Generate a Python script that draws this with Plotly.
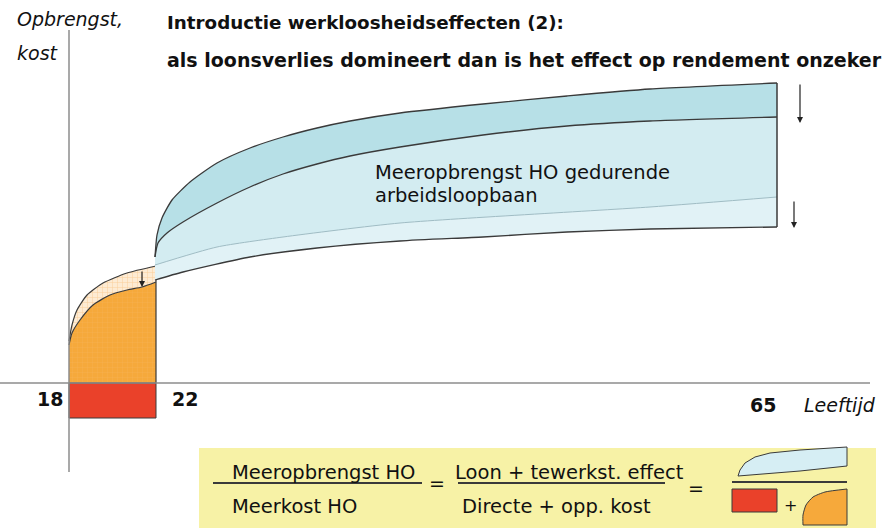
import plotly.graph_objects as go

# ---------------- data ----------------
# horizontal position units: 0 = start of study (age 18); vertical: 0 = age axis
age_labels = ["18", "22", "65"]

# study period: cost curves (opportunity cost without / with unemployment effect)
study_gross_x = [0, 3, 8, 18, 34, 58, 87]
study_gross_y = [42, 58, 73, 88, 100, 110, 117]
study_net_x = [0, 3, 11, 24, 41, 58, 73, 87]
study_net_y = [38, 50, 63, 78, 88, 93, 96, 101]
direct_cost = -35
study_end = 87

# career period: earnings differential curves
earn_top_x = [86, 88, 93, 103, 121, 148, 181, 214, 248, 281, 331, 414, 498, 581, 708]
earn_top_y = [126, 148, 165, 183, 201, 220, 235, 246, 255, 262, 270, 279, 287, 294, 300]
earn_mid_x = [86, 89, 98, 114, 148, 181, 214, 248, 281, 331, 414, 498, 581, 708]
earn_mid_y = [126, 140, 150, 161, 180, 196, 209, 219, 227, 236, 248, 257, 262, 266]
earn_low_x = [86, 148, 214, 331, 581, 708]
earn_low_y = [118, 136, 146, 160, 176, 186]
earn_base_x = [86, 114, 181, 248, 331, 414, 498, 581, 708]
earn_base_y = [103, 111, 126, 135, 142, 146, 151, 154, 156]

# small formula icons
icon_blue_x = [669, 671, 676, 686, 701, 731, 778, 778, 731, 669]
icon_blue_y = [-93, -87, -80, -74, -70, -67, -64, -83, -88, -93]
icon_red_x = [663, 708, 708, 663, 663]
icon_red_y = [-106, -106, -129, -129, -106]
icon_orange_base_x = [734, 778]
icon_orange_base_y = [-142, -142]
icon_orange_x = [734, 734, 737, 744, 756, 778]
icon_orange_y = [-142, -132, -122, -114, -109, -106]

FONT = "DejaVu Sans"
DARK = "#3a3a3a"
AXIS = "#8c8c8c"

fig = go.Figure()
sp = dict(shape="spline", smoothing=0.6)

# baseline of the study period
fig.add_trace(go.Scatter(x=[0, study_end], y=[0, 0], mode="lines",
                         line=dict(color="rgba(0,0,0,0)", width=0), hoverinfo="skip"))
# orange (opportunity cost) region
fig.add_trace(go.Scatter(
    x=study_net_x, y=study_net_y, mode="lines",
    line=dict(color=DARK, width=1.2, **sp),
    fill="tonexty", fillcolor="#F6A93B",
    fillpattern=dict(shape="+", bgcolor="#F6A93B", fgcolor="#F8BE72", size=5, solidity=0.12),
    hoverinfo="skip"))
# hatched region (loss due to unemployment effect)
fig.add_trace(go.Scatter(
    x=study_gross_x, y=study_gross_y, mode="lines",
    line=dict(color=DARK, width=1.2, **sp),
    fill="tonexty", fillcolor="#FDEBD3",
    fillpattern=dict(shape="+", bgcolor="#FDEBD3", fgcolor="#F6B464", size=5, solidity=0.2),
    hoverinfo="skip"))
fig.add_trace(go.Scatter(
    x=[study_end, study_end], y=[0, earn_top_y[0]], mode="lines",
    line=dict(color=DARK, width=1.2), hoverinfo="skip"))

# red direct cost rectangle
fig.add_trace(go.Scatter(
    x=[0, study_end, study_end, 0, 0], y=[0, 0, direct_cost, direct_cost, 0],
    mode="lines", line=dict(color=DARK, width=1), fill="toself", fillcolor="#EA412A",
    hoverinfo="skip"))

# blue bands (stacked fills)
fig.add_trace(go.Scatter(x=earn_base_x, y=earn_base_y, mode="lines",
                         line=dict(color=DARK, width=1.3, **sp), hoverinfo="skip"))
fig.add_trace(go.Scatter(x=earn_low_x, y=earn_low_y, mode="lines",
                         line=dict(color="#9fbcc4", width=1, **sp),
                         fill="tonexty", fillcolor="#E1F2F6", hoverinfo="skip"))
fig.add_trace(go.Scatter(x=earn_mid_x, y=earn_mid_y, mode="lines",
                         line=dict(color=DARK, width=1.3, **sp),
                         fill="tonexty", fillcolor="#D3ECF1", hoverinfo="skip"))
fig.add_trace(go.Scatter(x=earn_top_x, y=earn_top_y, mode="lines",
                         line=dict(color=DARK, width=1.3, **sp),
                         fill="tonexty", fillcolor="#B7E0E7", hoverinfo="skip"))
fig.add_trace(go.Scatter(x=[earn_top_x[-1], earn_top_x[-1]], y=[earn_top_y[-1], earn_base_y[-1]],
                         mode="lines", line=dict(color=DARK, width=1.5), hoverinfo="skip"))

# formula icons
fig.add_trace(go.Scatter(x=icon_blue_x, y=icon_blue_y, mode="lines",
                         line=dict(color=DARK, width=1), fill="toself", fillcolor="#D6EEF4",
                         hoverinfo="skip"))
fig.add_trace(go.Scatter(x=icon_red_x, y=icon_red_y, mode="lines",
                         line=dict(color=DARK, width=1), fill="toself", fillcolor="#EA412A",
                         hoverinfo="skip"))
fig.add_trace(go.Scatter(x=icon_orange_base_x, y=icon_orange_base_y, mode="lines",
                         line=dict(color=DARK, width=1), hoverinfo="skip"))
fig.add_trace(go.Scatter(x=icon_orange_x, y=icon_orange_y, mode="lines",
                         line=dict(color=DARK, width=1, **sp), fill="tonexty", fillcolor="#F6A93B",
                         hoverinfo="skip"))
fig.add_trace(go.Scatter(x=[icon_orange_x[-1], icon_orange_x[-1]],
                         y=[icon_orange_y[-1], icon_orange_base_y[-1]], mode="lines",
                         line=dict(color=DARK, width=1), hoverinfo="skip"))

shapes = [
    # formula box
    dict(type="rect", x0=130, x1=807, y0=-145, y1=-65, fillcolor="#F7F2A6",
         line=dict(width=0), layer="below"),
    # axes
    dict(type="line", x0=0, x1=0, y0=-89, y1=353, line=dict(color=AXIS, width=1.5)),
    dict(type="line", x0=-69, x1=801, y0=0, y1=0, line=dict(color=AXIS, width=1.5)),
    # fraction bars
    dict(type="line", x0=144, x1=353, y0=-100, y1=-100, line=dict(color=DARK, width=2)),
    dict(type="line", x0=389, x1=596, y0=-100, y1=-100, line=dict(color=DARK, width=2)),
    dict(type="line", x0=663, x1=778, y0=-99, y1=-99, line=dict(color=DARK, width=2)),
]

def txt(x, y, s, size=19, bold=False, italic=False, xanchor="left"):
    return dict(x=x, y=y, text=s, showarrow=False, xanchor=xanchor, yanchor="middle",
                font=dict(family=FONT, size=size, color="#111",
                          weight="bold" if bold else "normal",
                          style="italic" if italic else "normal"))

annotations = [
    txt(-54, 364, "Opbrengst,", italic=True),
    txt(-54, 330, "kost", italic=True),
    txt(96, 361, "Introductie werkloosheidseffecten (2):", size=18.3, bold=True),
    txt(96, 323, "als loonsverlies domineert dan is het effect op rendement onzeker", size=19, bold=True),
    txt(304, 211, "Meeropbrengst HO gedurende", size=19.5),
    txt(304, 188, "arbeidsloopbaan", size=19.5),
    txt(-19, -16, age_labels[0], bold=True, xanchor="center"),
    txt(116, -16, age_labels[1], bold=True, xanchor="center"),
    txt(694, -22, age_labels[2], bold=True, xanchor="center"),
    txt(733, -22, "Leeftijd", italic=True),
    txt(161, -89, "Meeropbrengst HO", size=19.5),
    txt(161, -123, "Meerkost HO", size=19.5),
    txt(368, -100, "=", xanchor="center"),
    txt(384, -89, "Loon + tewerkst. effect", size=19.5),
    txt(391, -123, "Directe + opp. kost", size=19.5),
    txt(627, -105, "=", xanchor="center"),
    txt(721, -122, "+", size=16, xanchor="center"),
]

# arrows
for (x, y0, y1) in [(73, 113, 96), (731, 300, 260), (725, 183, 155)]:
    annotations.append(dict(x=x, y=y1, ax=x, ay=y0, xref="x", yref="y", axref="x", ayref="y",
                            text="", showarrow=True, arrowhead=2, arrowsize=1,
                            arrowwidth=1.2, arrowcolor="#222", standoff=0))

fig.update_layout(
    width=888, height=528, autosize=False,
    margin=dict(l=0, r=0, t=0, b=0),
    paper_bgcolor="white", plot_bgcolor="white",
    showlegend=False,
    xaxis=dict(range=[-69, 819], visible=False, fixedrange=True),
    yaxis=dict(range=[-145, 383], visible=False, fixedrange=True),
    shapes=shapes, annotations=annotations,
)

fig.write_html("out.html", config={"displayModeBar": False},
               post_script="document.body.style.margin='0';document.body.style.overflow='hidden';")
